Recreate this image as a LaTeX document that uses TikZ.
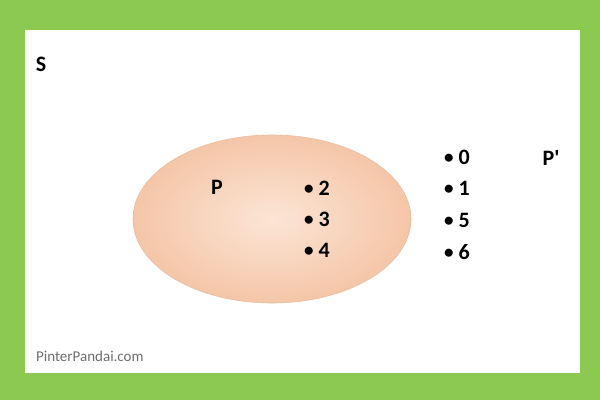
\documentclass[tikz,border=0pt]{standalone}
\usepackage{fontspec}
\setmainfont{Carlito}[Ligatures=TeXOff]
\definecolor{frame}{RGB}{139,201,80}
\definecolor{peachin}{RGB}{251,229,213}
\definecolor{peachout}{RGB}{245,198,168}
\definecolor{peachedge}{RGB}{232,188,160}
\definecolor{wm}{RGB}{110,110,110}
\tikzset{
  lbl/.style={font=\bfseries\fontsize{22}{24}\selectfont, inner sep=0pt, anchor=center},
  elem/.style={font=\bfseries\fontsize{22}{26}\selectfont, inner sep=0pt, anchor=west},
}
\newcommand{\bul}{{\fontsize{19}{20}\selectfont\raisebox{1pt}{•}}\kern5pt}
\begin{document}
\begin{tikzpicture}[x=1pt,y=-1pt]
\useasboundingbox (0,0) rectangle (600,400);
\fill[frame] (0,0) rectangle (600,400);
\fill[white] (25,30) rectangle (580,373);
\shade[inner color=peachin, outer color=peachout, draw=peachedge, line width=0.6pt]
  (272,219) ellipse [x radius=139, y radius=84];
\node[lbl] (S) at (41,64) {S};
\node[lbl] (P) at (217,187) {P};
\node[lbl] (Pc) at (551,158) {P'};
\node[elem] (e2) at (304,188) {\bul 2};
\node[elem] (e3) at (304,219) {\bul 3};
\node[elem] (e4) at (304,250) {\bul 4};
\node[elem] (e0) at (444,157) {\bul 0};
\node[elem] (e1) at (444,188) {\bul 1};
\node[elem] (e5) at (444,220) {\bul 5};
\node[elem] (e6) at (444,252) {\bul 6};
\node[font=\fontsize{15}{17}\selectfont, text=wm, anchor=west, inner sep=0pt] (wm) at (36,356) {PinterPandai.com};
\end{tikzpicture}
\end{document}
